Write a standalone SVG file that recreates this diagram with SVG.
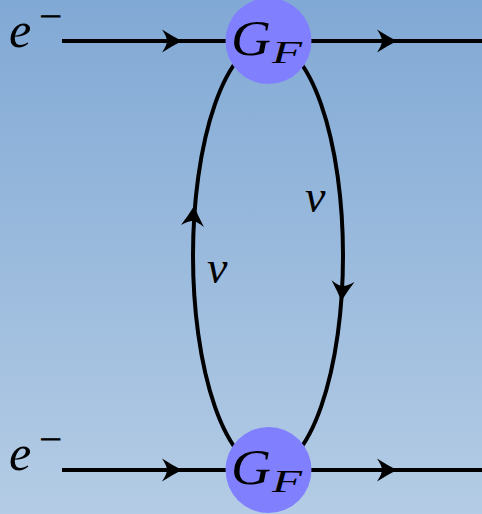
<svg xmlns="http://www.w3.org/2000/svg" width="482" height="514" viewBox="0 0 482 514">
  <defs>
    <linearGradient id="bg" x1="0" y1="0" x2="0" y2="1">
      <stop offset="0" stop-color="#81a9d5"/>
      <stop offset="1" stop-color="#b4cce5"/>
    </linearGradient>
    <path id="arrow" d="M1,0 Q-9,-5 -19,-11.5 Q-14,-4 -14,0 Q-14,4 -19,11.5 Q-9,5 1,0 Z" fill="#000"/>
  </defs>
  <style>
    .line { stroke: #000; stroke-width: 4; fill: none; }
    .vertex { fill: #8080ff; }
    .math { font-family: "Liberation Serif", "DejaVu Serif", serif; font-style: italic; fill: #000; }
    .op { font-family: "Liberation Serif", "DejaVu Serif", serif; font-style: normal; fill: #000; stroke: #000; stroke-width: 0.9; }
  </style>
  <rect x="0" y="0" width="482" height="514" fill="url(#bg)"/>

  <g id="connectors">
    <line class="line" x1="62" y1="41" x2="482" y2="41"/>
    <line class="line" x1="62" y1="470" x2="482" y2="470"/>
    <ellipse class="line" cx="268" cy="255.5" rx="75" ry="214"/>
    <use href="#arrow" transform="translate(181,41)"/>
    <use href="#arrow" transform="translate(396,41)"/>
    <use href="#arrow" transform="translate(181,470)"/>
    <use href="#arrow" transform="translate(396,470)"/>
    <use href="#arrow" transform="translate(194,207) rotate(-85.3)"/>
    <use href="#arrow" transform="translate(341.5,300) rotate(94.6)"/>
  </g>

  <g id="vertex-top">
    <circle class="vertex" cx="268.5" cy="41" r="43"/>
    <text class="math" x="231" y="55" font-size="50"><tspan textLength="40" lengthAdjust="spacingAndGlyphs">G</tspan><tspan x="272" y="63" font-size="31" textLength="30" lengthAdjust="spacingAndGlyphs">F</tspan></text>
  </g>
  <g id="vertex-bottom">
    <circle class="vertex" cx="268.5" cy="470" r="43"/>
    <text class="math" x="231" y="484" font-size="50"><tspan textLength="40" lengthAdjust="spacingAndGlyphs">G</tspan><tspan x="272" y="492" font-size="31" textLength="30" lengthAdjust="spacingAndGlyphs">F</tspan></text>
  </g>

  <g id="label-e-top">
    <text class="math" x="9" y="47" font-size="50">e<tspan class="op" x="40" y="25" font-size="26" textLength="22" lengthAdjust="spacingAndGlyphs">−</tspan></text>
  </g>
  <g id="label-e-bottom">
    <text class="math" x="9" y="470" font-size="50">e<tspan class="op" x="40" y="448" font-size="26" textLength="22" lengthAdjust="spacingAndGlyphs">−</tspan></text>
  </g>
  <g id="label-nu-left">
    <text class="math" x="207" y="283" font-size="46">ν</text>
  </g>
  <g id="label-nu-right">
    <text class="math" x="305" y="212" font-size="46">ν</text>
  </g>
</svg>
